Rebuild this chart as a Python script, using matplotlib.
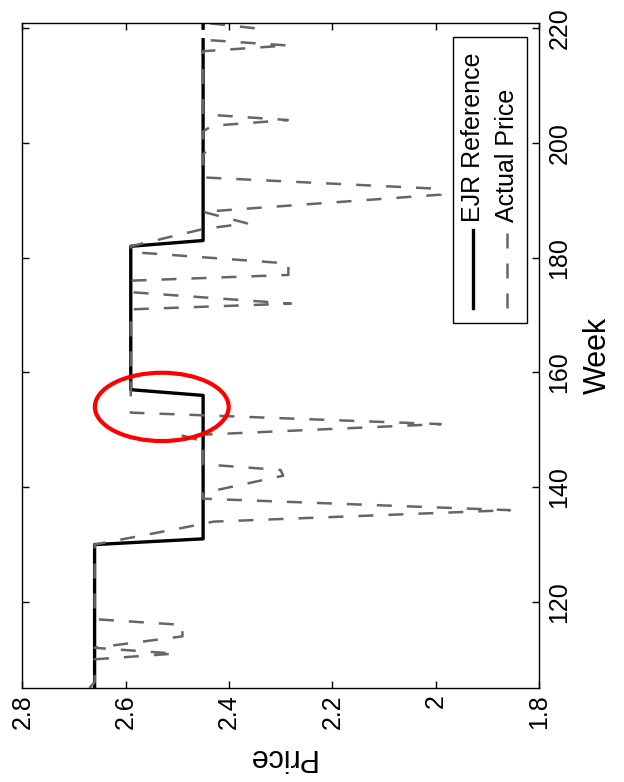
import matplotlib.pyplot as plt
from matplotlib.patches import Ellipse, Rectangle
import numpy as np

plt.rcParams['font.family'] = ['Liberation Sans', 'DejaVu Sans']

# EJR reference price (step levels), week 219 missing
ejr_weeks = [105, 130, 131, 156, 157, 182, 183, 218, 219, 220, 221]
ejr_price = [2.66, 2.66, 2.45, 2.45, 2.59, 2.59, 2.45, 2.45, np.nan, 2.45, 2.45]

actual_weeks = [105, 106, 110, 111, 112, 114, 116, 117, 130, 133, 134, 136, 138,
                139, 142, 143, 144, 148, 149, 151, 153, 171, 172, 174, 176, 177,
                179, 181, 182, 185, 186, 188, 191, 192, 194, 198, 199, 200, 202,
                203, 204, 205, 216, 217, 218, 219, 220, 221]
actual_price = [2.67, 2.66, 2.66, 2.505, 2.66, 2.49, 2.49, 2.66, 2.66, 2.485, 2.43,
                1.856, 2.45, 2.45, 2.295, 2.30, 2.45, 2.45, 2.49, 1.99, 2.59, 2.59,
                2.28, 2.59, 2.59, 2.285, 2.285, 2.59, 2.59, 2.45, 2.365, 2.45, 1.99,
                1.99, 2.45, 2.45, 2.44, 2.45, 2.45, 2.433, 2.286, 2.45, 2.45, 2.286,
                2.45, np.nan, 2.35, 2.45]

price_ticks = [2.8, 2.6, 2.4, 2.2, 2.0, 1.8]
price_labels = ['2.8', '2.6', '2.4', '2.2', '2', '1.8']
week_ticks = [120, 140, 160, 180, 200, 220]

# red circle marking the mismatch
circle_center = (2.530, 154.0)
circle_size = (0.259, 11.9)

gray = '#666666'

fig = plt.figure(figsize=(6.24, 7.82), dpi=100)
ax = fig.add_axes([0.0357, 0.1202, 0.828, 0.851])

# chart is drawn turned on its side: price runs across, week runs up
ax.plot(ejr_price, ejr_weeks, color='black', lw=2.4)
ax.plot(actual_price, actual_weeks, color=gray, lw=1.8, linestyle=(0, (6, 6)))
ax.add_patch(Ellipse(circle_center, circle_size[0], circle_size[1],
                     fill=False, ec='red', lw=3, zorder=5))

ax.set_xlim(2.8, 1.8)
ax.set_ylim(105, 221)
ax.set_xticks(price_ticks)
ax.set_xticklabels(price_labels)
ax.set_yticks(week_ticks)

ax.tick_params(direction='in', length=5, width=1, top=True, right=True,
               left=True, labelleft=False, labelright=True, labelsize=18)
ax.tick_params(axis='x', pad=4.5, labelrotation=90)
ax.tick_params(axis='y', pad=6, labelrotation=90)
for lab in ax.get_yticklabels():
    lab.set_va('center')
for s in ax.spines.values():
    s.set_linewidth(1.0)

ax.set_xlabel('Price', rotation=180, fontsize=22, labelpad=9)
ax.yaxis.set_label_position('right')
ax.set_ylabel('Week', rotation=90, fontsize=22, labelpad=8)

# hand-made legend, turned like the rest
ax.add_patch(Rectangle((0.8335, 0.5485), 0.1433, 0.4295, transform=ax.transAxes,
                       fc='white', ec='black', lw=1, zorder=6))
ax.plot([0.8723, 0.8723], [0.571, 0.6882], transform=ax.transAxes,
        color='black', lw=2.4, zorder=7)
ax.plot([0.9381, 0.9381], [0.571, 0.6882], transform=ax.transAxes,
        color=gray, lw=1.8, linestyle=(0, (6, 6)), zorder=7)
ax.text(0.8723, 0.7002, 'EJR Reference', transform=ax.transAxes, rotation=90,
        ha='center', va='bottom', fontsize=18, zorder=8)
ax.text(0.9381, 0.7002, 'Actual Price', transform=ax.transAxes, rotation=90,
        ha='center', va='bottom', fontsize=18, zorder=8)
ax.set_xlim(2.8, 1.8)
ax.set_ylim(105, 221)

plt.savefig('out.png', dpi=100)
plt.close()
